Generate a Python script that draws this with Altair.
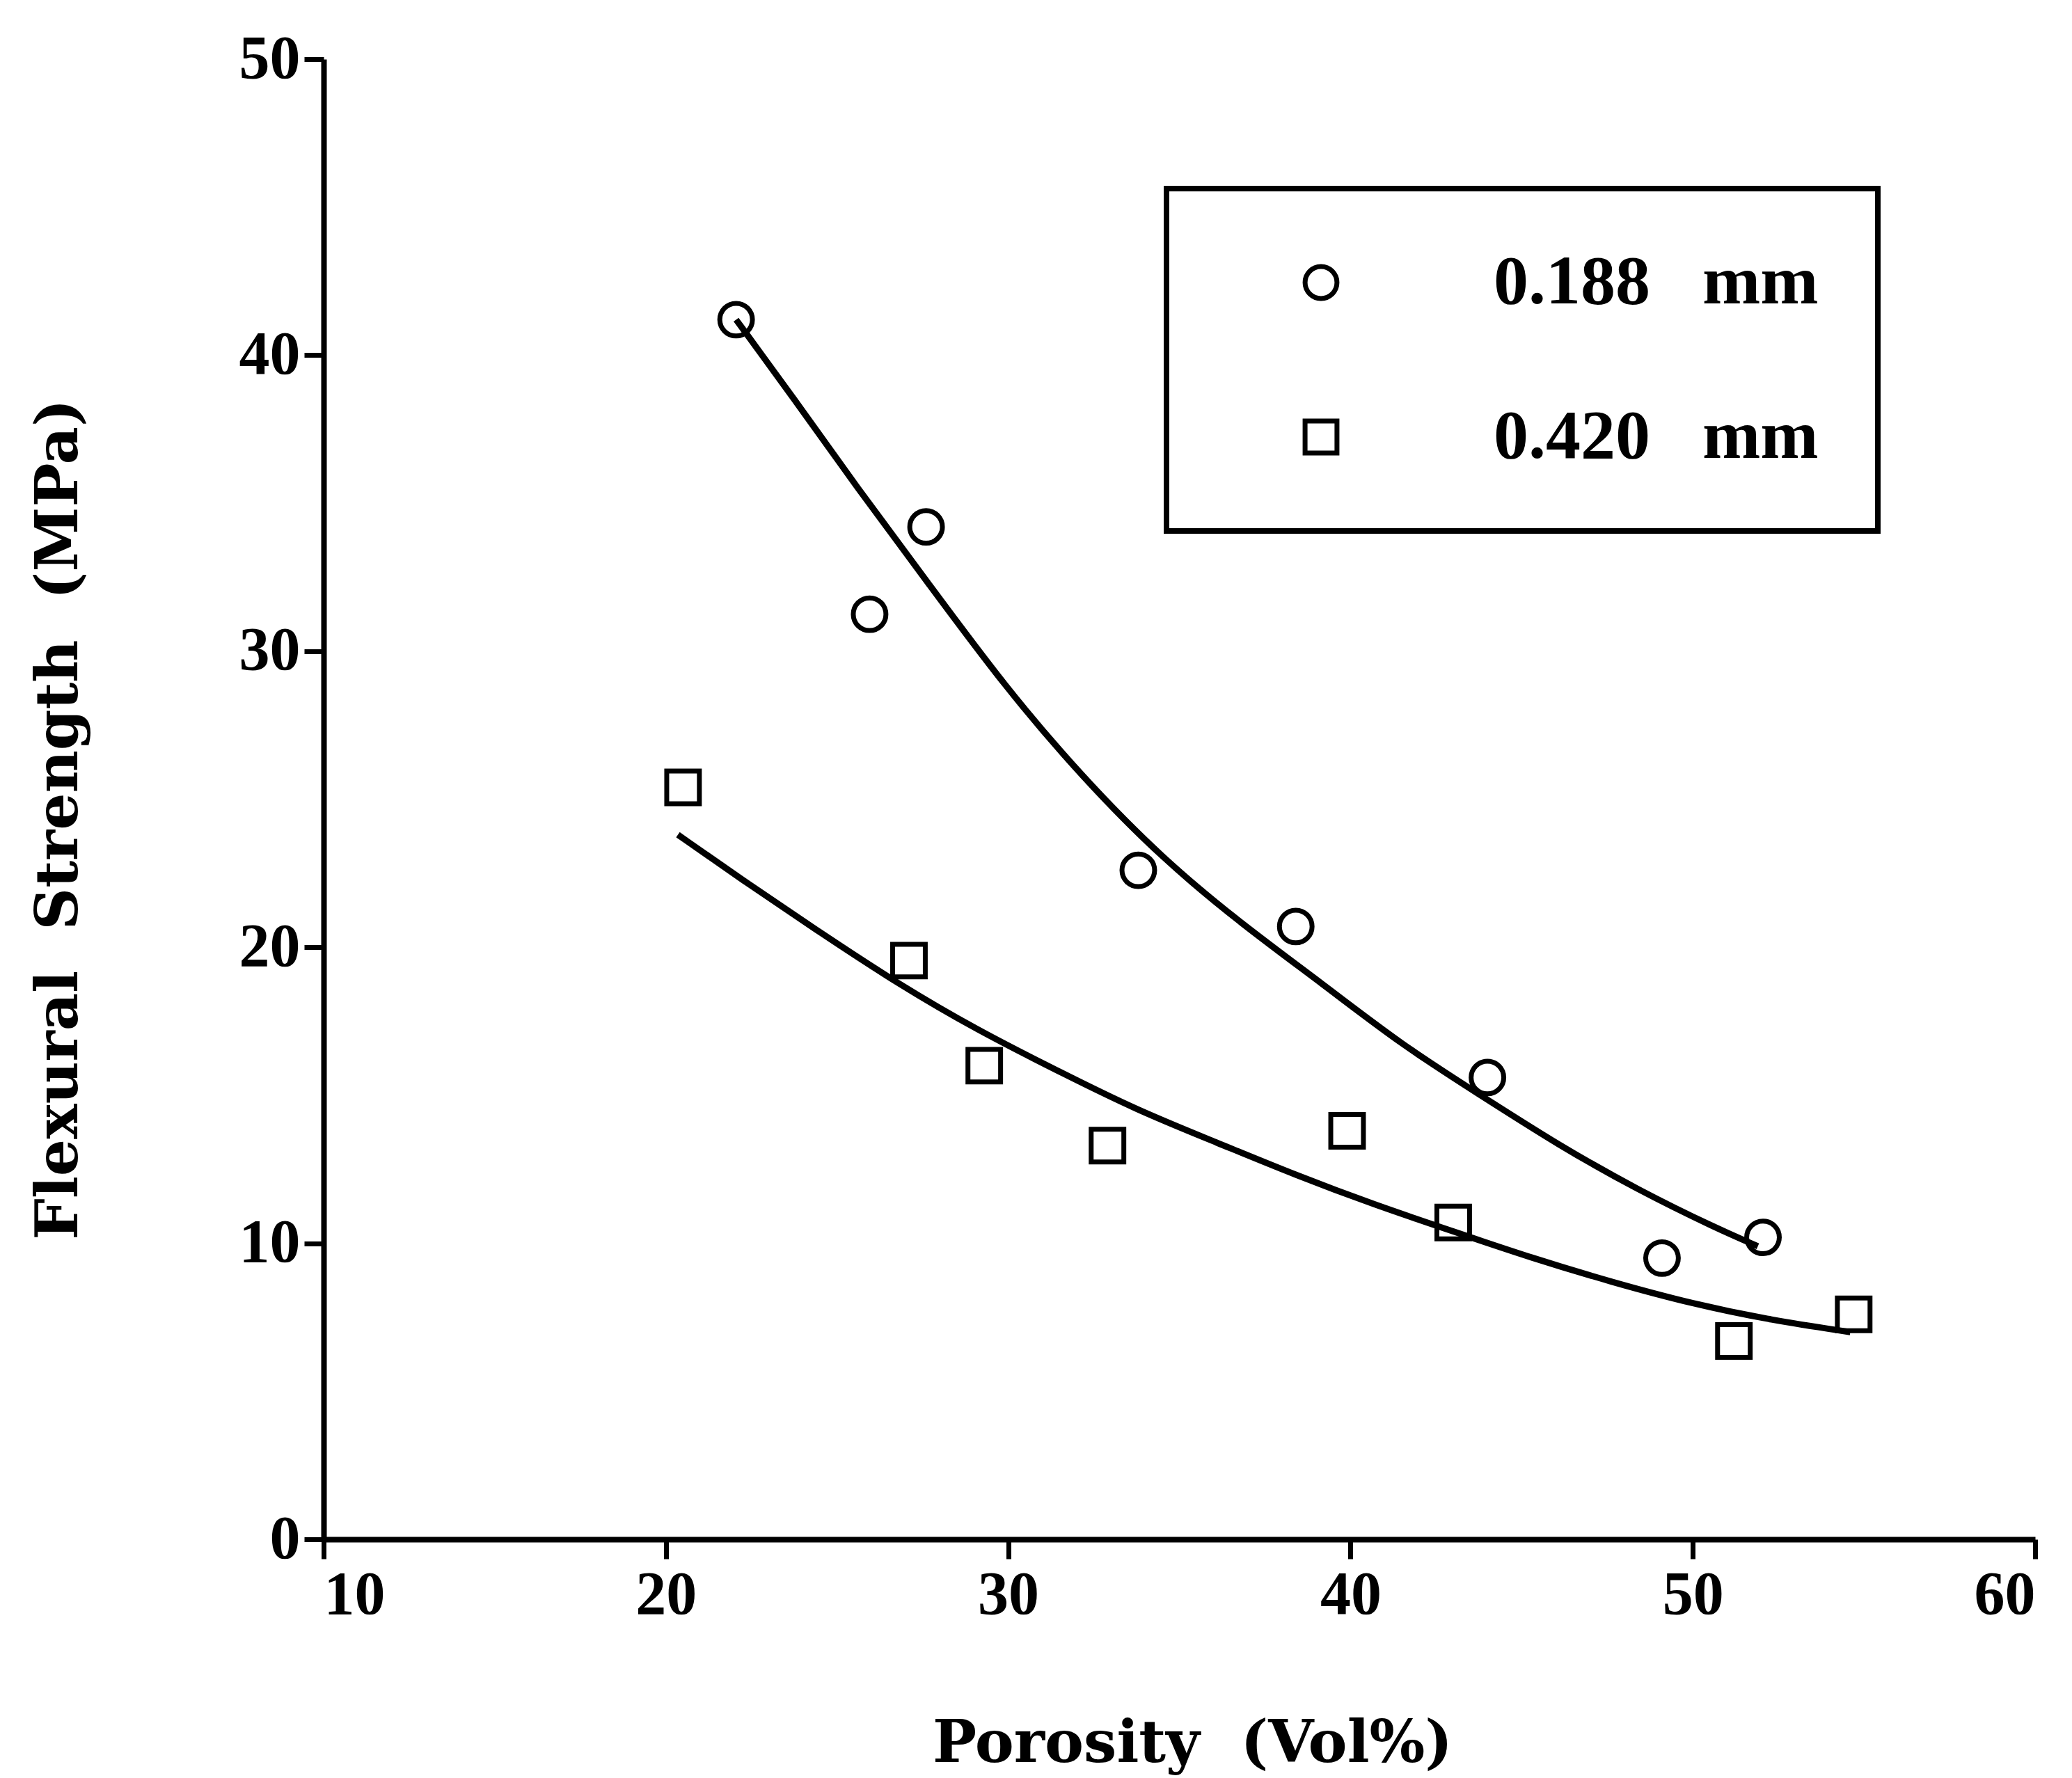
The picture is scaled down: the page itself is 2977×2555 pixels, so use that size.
import altair as alt
import pandas as pd

# Measured data points (Porosity vol%, Flexural strength MPa)
series_names = ["0.188\u00a0\u00a0\u00a0mm", "0.420\u00a0\u00a0\u00a0mm"]

circle_x = [22.05, 25.95, 27.6, 33.8, 38.4, 44.0, 49.1, 52.05]
circle_y = [41.2, 31.25, 34.2, 22.6, 20.7, 15.6, 9.5, 10.2]

square_x = [20.5, 27.1, 29.3, 32.9, 39.9, 43.0, 51.2, 54.7]
square_y = [25.4, 19.55, 16.0, 13.3, 13.8, 10.7, 6.7, 7.6]

# Fitted curves
curve1_x = [22.05, 23.7, 25.6, 27.6, 29.9, 32.2, 34.5, 36.8, 39.2, 41.5, 43.8, 46.1, 48.4, 50.7, 51.9]
curve1_y = [41.2, 38.6, 35.5, 32.4, 28.8, 25.7, 23.0, 20.8, 18.75, 16.7, 15.0, 13.3, 11.8, 10.5, 9.9]

curve2_x = [20.35, 22.2, 24.5, 26.8, 29.1, 31.4, 33.75, 36.1, 38.4, 40.7, 43.0, 45.3, 47.6, 50.0, 52.3, 54.6]
curve2_y = [23.8, 22.3, 20.5, 18.75, 17.2, 15.85, 14.5, 13.4, 12.3, 11.3, 10.4, 9.5, 8.7, 7.95, 7.4, 7.0]

x_ticks = [10, 20, 30, 40, 50, 60]
y_ticks = [0, 10, 20, 30, 40, 50]

x_title = "Porosity\u00a0\u00a0(Vol%)"
y_title = "Flexural\u00a0\u00a0Strength\u00a0\u00a0(MPa)"

points = pd.DataFrame({
    "x": circle_x + square_x,
    "y": circle_y + square_y,
    "series": [series_names[0]] * len(circle_x) + [series_names[1]] * len(square_x),
})
curves = pd.DataFrame({
    "x": curve1_x + curve2_x,
    "y": curve1_y + curve2_y,
    "series": [series_names[0]] * len(curve1_x) + [series_names[1]] * len(curve2_x),
})

FONT = "Liberation Serif"
TFONT = "DejaVu Serif"

xenc = alt.X("x:Q", scale=alt.Scale(domain=[10, 60], nice=False, zero=False),
             axis=alt.Axis(values=x_ticks, title=x_title, labelPadding=8,
                           titleX=1248, titleY=294, titleBaseline="middle"))
yenc = alt.Y("y:Q", scale=alt.Scale(domain=[0, 50], nice=False),
             axis=alt.Axis(values=y_ticks, title=y_title, labelPadding=6,
                           titleX=-380, titleY=1092, titleAngle=-90, titleAlign="center",
                           titleBaseline="middle"))

lines = alt.Chart(curves).mark_line(color="black", strokeWidth=9, interpolate="basis").encode(
    x=xenc, y=yenc, detail="series:N"
)

pts = alt.Chart(points).mark_point(filled=False, color="black", strokeWidth=7, size=2200, opacity=1).encode(
    x=xenc, y=yenc,
    shape=alt.Shape("series:N", scale=alt.Scale(domain=series_names, range=["circle", "square"]),
                    legend=alt.Legend(title=None, orient="none", legendX=1211, legendY=186,
                                      strokeColor="black", padding=85,
                                      symbolSize=2100, symbolStrokeWidth=7, symbolStrokeColor="black",
                                      symbolOffset=87, labelOffset=198,
                                      labelFont=FONT, labelFontSize=100, labelFontWeight="bold",
                                      labelColor="black", labelLimit=1000)),
)

chart = alt.layer(lines, pts).properties(
    width=2459, height=2127,
    padding={"left": 465, "top": 85, "right": 53, "bottom": 343},
    autosize=alt.AutoSizeParams(type="none"),
    background="white",
).configure_view(stroke=None).configure_axis(
    grid=False, domainColor="black", domainWidth=8, tickColor="black", tickWidth=7, tickSize=28,
    labelFont=FONT, labelFontSize=88, labelFontWeight="bold", labelColor="black",
    titleFont=TFONT, titleFontSize=84, titleFontWeight="bold", titleColor="black",
).configure_legend(strokeWidth=8, rowPadding=122)

chart.save("out.html", embed_options={"renderer": "svg", "actions": False})
